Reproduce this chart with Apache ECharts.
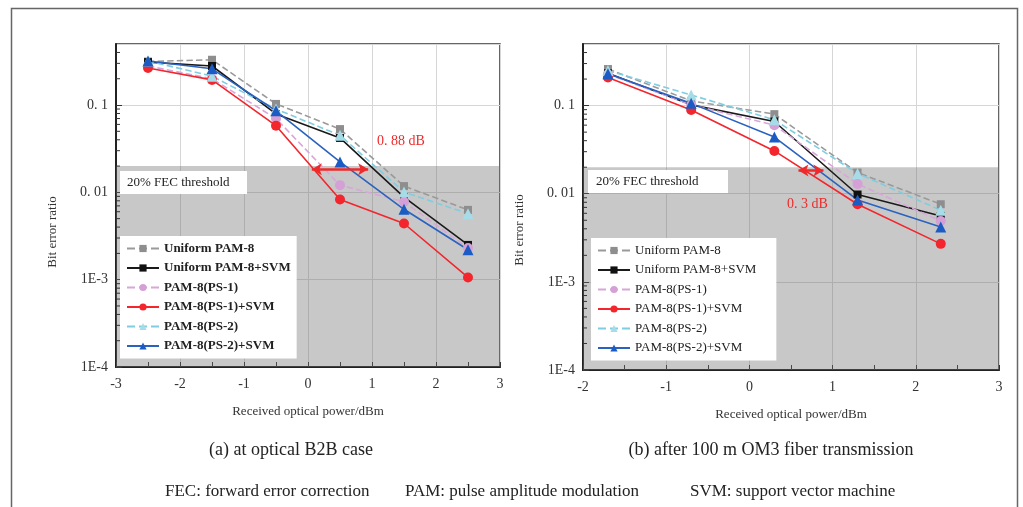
<!DOCTYPE html>
<html>
<head>
<meta charset="utf-8">
<script src="https://cdn.jsdelivr.net/npm/echarts@6/dist/echarts.min.js"></script>
<style>
html,body{margin:0;padding:0;background:#fff;}
#c{width:1023px;height:507px;}
</style>
</head>
<body>
<div id="c"></div>
<script>
// ---------- data ----------
const seriesNames = ['Uniform PAM-8', 'Uniform PAM-8+SVM', 'PAM-8(PS-1)', 'PAM-8(PS-1)+SVM', 'PAM-8(PS-2)', 'PAM-8(PS-2)+SVM'];

// (a) optical B2B
const xPowerA = [-2.5, -1.5, -0.5, 0.5, 1.5, 2.5];
const uniformA    = [0.315, 0.33, 0.103, 0.053, 0.0118, 0.0063];
const uniformSvmA = [0.31, 0.28, 0.079, 0.042, 0.0088, 0.0025];
const ps1A        = [0.28, 0.2, 0.07, 0.0121, 0.0078, 0.0023];
const ps1SvmA     = [0.266, 0.194, 0.058, 0.0083, 0.0044, 0.00106];
const ps2A        = [0.32, 0.214, 0.09, 0.045, 0.0101, 0.0057];
const ps2SvmA     = [0.32, 0.26, 0.086, 0.0223, 0.0064, 0.0022];

// (b) after 100 m OM3
const xPowerB = [-1.7, -0.7, 0.3, 1.3, 2.3];
const uniformB    = [0.26, 0.113, 0.08, 0.0174, 0.0076];
const uniformSvmB = [0.233, 0.102, 0.066, 0.0098, 0.0056];
const ps1B        = [0.227, 0.102, 0.06, 0.0129, 0.0049];
const ps1SvmB     = [0.209, 0.089, 0.0306, 0.0076, 0.0027];
const ps2B        = [0.25, 0.132, 0.069, 0.017, 0.0065];
const ps2SvmB     = [0.23, 0.106, 0.044, 0.0085, 0.0042];

const fecThreshold = 0.02;
const yTickValues = [1e-4, 1e-3, 1e-2, 1e-1];
const yTickLabels = ['1E-4', '1E-3', '0. 01', '0. 1'];
const yMinorValues = [2e-4,3e-4,4e-4,5e-4,6e-4,7e-4,8e-4,9e-4,2e-3,3e-3,4e-3,5e-3,6e-3,7e-3,8e-3,9e-3,0.02,0.03,0.04,0.05,0.06,0.07,0.08,0.09,0.2,0.3,0.4];
const xRangeA = [-3, 3];
const xRangeB = [-2, 3];
const yRange = [1e-4, 0.5];
const gapA = [0.06, 0.94];  // 0.88 dB
const gapB = [0.59, 0.89];  // 0.3 dB

// ---------- styles ----------
const styles = [
  {color:'#8e8e8e', line:'#9a9a9a', type:'dashed', symbol:'rect', size:8},
  {color:'#111111', line:'#1a1a1a', type:'solid', symbol:'rect', size:8},
  {color:'#d4a0d6', line:'#d8a6d8', type:'dashed', symbol:'circle', size:10},
  {color:'#f2262c', line:'#f2262c', type:'solid', symbol:'circle', size:10},
  {color:'#a6dbe8', line:'#7fcde0', type:'dashed', symbol:'triangle', size:11},
  {color:'#1b5cc4', line:'#2a62c0', type:'solid', symbol:'triangle', size:11}
];
const serif = '"Liberation Serif", "DejaVu Serif", serif';

function makeSeries(idx, xs, ys, name, st) {
  return {
    type:'line', name:name, xAxisIndex:idx, yAxisIndex:idx, z:3,
    data: xs.map((x,i)=>[x, ys[i]]),
    symbol: st.symbol, symbolSize: st.size,
    itemStyle:{color:st.color},
    lineStyle:{color:st.line, width:1.6, type:st.type},
    emphasis:{disabled:true}, animation:false
  };
}

const dataA = [uniformA, uniformSvmA, ps1A, ps1SvmA, ps2A, ps2SvmA];
const dataB = [uniformB, uniformSvmB, ps1B, ps1SvmB, ps2B, ps2SvmB];

function yLabel(v) {
  const e = Math.log10(v);
  for (let i = 0; i < yTickValues.length; i++) {
    if (Math.abs(Math.log10(yTickValues[i]) - e) < 0.01) return yTickLabels[i];
  }
  return '';
}

function xAxisCfg(idx, range) {
  return {
    type:'value', gridIndex:idx, min:range[0], max:range[1], interval:1,
    name:'Received optical power/dBm', nameLocation:'middle', nameGap:38,
    nameTextStyle:{fontFamily:serif, fontSize:13, color:'#333'},
    axisLine:{show:true, onZero:false, lineStyle:{color:'#222', width:2}},
    axisTick:{show:true, inside:true, length:5, lineStyle:{color:'#333'}},
    minorTick:{show:true, splitNumber:2, length:5, lineStyle:{color:'#333'}},
    axisLabel:{fontFamily:serif, fontSize:14, color:'#333', margin:10},
    splitLine:{show:true, lineStyle:{color:'#d6d6d6', width:1}},
    minorSplitLine:{show:false}
  };
}
function yAxisCfg(idx) {
  return {
    type:'log', logBase:10, gridIndex:idx, min:yRange[0], max:yRange[1],
    axisLine:{show:true, onZero:false, lineStyle:{color:'#222', width:2}},
    axisTick:{show:true, inside:true, length:6, lineStyle:{color:'#333'}},
    axisLabel:{fontFamily:serif, fontSize:14, color:'#333', margin:8, formatter:yLabel, showMaxLabel:false},
    splitLine:{show:true, lineStyle:{color:'#d6d6d6', width:1}}
  };
}

function minorTickSeries(idx, xMin) {
  return {
    type:'custom', xAxisIndex:idx, yAxisIndex:idx, z:4, silent:true, animation:false,
    data: yMinorValues.map(v=>[xMin, v]),
    renderItem: function(params, api) {
      const p = api.coord([api.value(0), api.value(1)]);
      return {type:'line', shape:{x1:p[0], y1:p[1], x2:p[0]+4, y2:p[1]}, style:{stroke:'#333', lineWidth:1}};
    }
  };
}

function shadeSeries(idx) {
  return {
    type:'line', xAxisIndex:idx, yAxisIndex:idx, z:1, data:[], silent:true, animation:false,
    markArea:{silent:true, itemStyle:{color:'rgba(110,110,110,0.38)'},
      data:[[{yAxis:yRange[0]}, {yAxis:fecThreshold}]]}
  };
}

function gapSeries(idx, gap) {
  return {
    type:'line', xAxisIndex:idx, yAxisIndex:idx, z:5, data:[], silent:true, animation:false,
    markLine:{silent:true, symbol:['arrow','arrow'], symbolSize:[9,10], label:{show:false},
      lineStyle:{color:'#ee2a2a', width:2.5, type:'solid'},
      data:[[{coord:[gap[0], 0.0184]}, {coord:[gap[1], 0.0184]}]]}
  };
}

const series = [shadeSeries(0), shadeSeries(1)];
for (let i = 0; i < 6; i++) series.push(makeSeries(0, xPowerA, dataA[i], seriesNames[i], styles[i]));
for (let i = 0; i < 6; i++) series.push(makeSeries(1, xPowerB, dataB[i], seriesNames[i], styles[i]));
series.push(minorTickSeries(0, xRangeA[0]), minorTickSeries(1, xRangeB[0]));
series.push(gapSeries(0, gapA), gapSeries(1, gapB));

function legendCfg(left, top, bold, padRight) {
  return {
    data: seriesNames, orient:'vertical', left:left, top:top,
    backgroundColor:'#ffffff', padding:[6,padRight,6,6],
    itemWidth:32, itemHeight:9, itemGap:6.5, selectedMode:false,
    textStyle:{fontFamily:serif, fontSize:13, fontWeight:bold?'bold':'normal', color:'#222', lineHeight:13}
  };
}

const chart = echarts.init(document.getElementById('c'), null, {renderer:'canvas'});
chart.setOption({
  backgroundColor:'#ffffff',
  animation:false,
  grid:[
    {left:116, top:44, width:384, height:323, show:true, backgroundColor:'#ffffff', borderColor:'#333', borderWidth:1.5, outerBoundsMode:'none', containLabel:false},
    {left:583, top:44, width:416, height:326, show:true, backgroundColor:'#ffffff', borderColor:'#333', borderWidth:1.5, outerBoundsMode:'none', containLabel:false}
  ],
  xAxis:[xAxisCfg(0, xRangeA), xAxisCfg(1, xRangeB)],
  yAxis:[yAxisCfg(0), yAxisCfg(1)],
  legend:[legendCfg(120, 236, true, 6), legendCfg(591, 238, false, 20)],
  series: series,
  graphic:[
    {type:'rect', left:9, top:6, shape:{width:1006, height:520}, style:{fill:'none', stroke:'#666', lineWidth:1.5}, z:0, silent:true},
    {type:'rect', x:120, y:171, shape:{width:127, height:23}, style:{fill:'#ffffff'}, z:50},
    {type:'text', x:127, y:182.5, style:{text:'20% FEC threshold', font:'13px "Liberation Serif"', fill:'#222', textVerticalAlign:'middle'}, z:51},
    {type:'rect', x:588, y:170, shape:{width:140, height:23}, style:{fill:'#ffffff'}, z:50},
    {type:'text', x:596, y:181.5, style:{text:'20% FEC threshold', font:'13px "Liberation Serif"', fill:'#222', textVerticalAlign:'middle'}, z:51},
    {type:'text', x:377, y:141, style:{text:'0. 88 dB', font:'14px "Liberation Serif"', fill:'#ee2a2a', textVerticalAlign:'middle'}, z:51},
    {type:'text', x:787, y:204, style:{text:'0. 3 dB', font:'14px "Liberation Serif"', fill:'#ee2a2a', textVerticalAlign:'middle'}, z:51},
    {type:'text', x:53, y:232, rotation:Math.PI/2, style:{text:'Bit error ratio', font:'13px "Liberation Serif"', fill:'#333', textAlign:'center', textVerticalAlign:'middle'}, z:51},
    {type:'text', x:520, y:230, rotation:Math.PI/2, style:{text:'Bit error ratio', font:'13px "Liberation Serif"', fill:'#333', textAlign:'center', textVerticalAlign:'middle'}, z:51},
    {type:'text', x:291, y:450, style:{text:'(a) at optical B2B case', font:'18px "Liberation Serif"', fill:'#222', textAlign:'center', textVerticalAlign:'middle'}, z:51},
    {type:'text', x:771, y:450, style:{text:'(b) after 100 m OM3 fiber transmission', font:'18px "Liberation Serif"', fill:'#222', textAlign:'center', textVerticalAlign:'middle'}, z:51},
    {type:'text', x:165, y:492, style:{text:'FEC: forward error correction', font:'17px "Liberation Serif"', fill:'#222', textVerticalAlign:'middle'}, z:51},
    {type:'text', x:405, y:492, style:{text:'PAM: pulse amplitude modulation', font:'17px "Liberation Serif"', fill:'#222', textVerticalAlign:'middle'}, z:51},
    {type:'text', x:690, y:492, style:{text:'SVM: support vector machine', font:'17px "Liberation Serif"', fill:'#222', textVerticalAlign:'middle'}, z:51}
  ]
});
</script>
</body>
</html>
